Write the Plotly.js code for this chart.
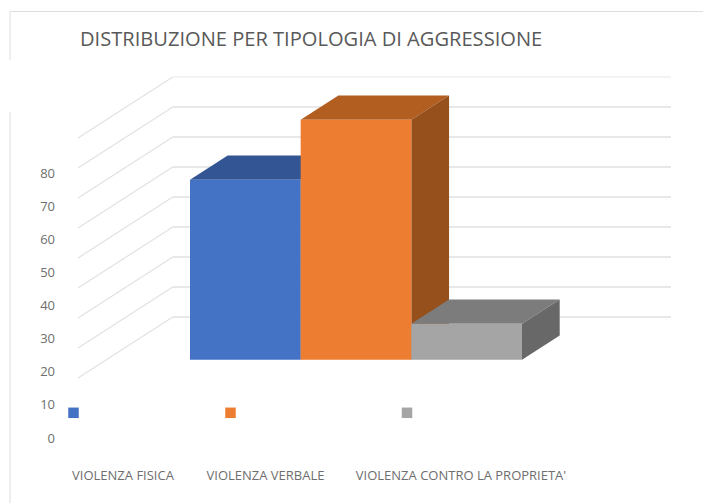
<!DOCTYPE html>
<html>
<head>
<meta charset="utf-8">
<script src="https://cdn.plot.ly/plotly-3.0.1.min.js"></script>
<style>html,body{margin:0;padding:0;background:#fff}#chart{width:703px;height:503px}</style>
</head>
<body>
<div id="chart"></div>
<script>
// ---- data ----
const titleText = "DISTRIBUZIONE PER TIPOLOGIA DI AGGRESSIONE";
const categories = ["VIOLENZA FISICA", "VIOLENZA VERBALE", "VIOLENZA CONTRO LA PROPRIETA'"];
const values = [60, 80, 12];
const gridValues = [0, 10, 20, 30, 40, 50, 60, 70, 80];
const axisTicks = [0, 10, 20, 30, 40, 50, 60, 70, 80];
const frontColors = ["#4472c4", "#ed7d31", "#a5a5a5"];
const topColors = ["#335593", "#b25e21", "#7c7c7c"];
const sideColors = ["#2f5087", "#95501c", "#686868"];

// ---- page geometry ----
const W = 703, H = 503;
const baseline = 359.7, pxPerUnit = 3;
const barLeft = 190, barWidth = 110.67;
const barDepthX = 37.7, barDepthY = 24.3;
const wallX = 172.8, wallRight = 671, wallFrontX = 78, wallDepthX = 94.8;
const wallBackRise = 42.7, wallFrontDrop = 61;
const labelCentres = [123, 265.5, 461];
const legendCentres = [73.5, 230.5, 407];
const legendY = -17.7;

const px = i => barLeft + barWidth * i;
const dy = p => p / pxPerUnit;
const traces = [];

function poly(xs, ys, color) {
  traces.push({
    type: "scatter", mode: "lines", x: xs.concat(xs[0]), y: ys.concat(ys[0]),
    fill: "toself", fillcolor: color, line: {color: color, width: 0},
    hoverinfo: "skip", showlegend: false
  });
}

// gridlines on the back wall and the side wall
gridValues.forEach(v => {
  const back = v + dy(wallBackRise);
  const front = back - dy(wallFrontDrop);
  traces.push({
    type: "scatter", mode: "lines", x: [wallFrontX, wallX], y: [front, back],
    line: {color: "#e2e2e2", width: 1.2}, hoverinfo: "skip", showlegend: false
  });
  traces.push({
    type: "scatter", mode: "lines", x: [wallX, wallRight], y: [back, back],
    line: {color: v === 80 ? "#efefef" : "#e0e0e0", width: 1.4}, hoverinfo: "skip", showlegend: false
  });
});

// bars, each drawn as top, side and front faces from its value
values.forEach((v, i) => {
  const l = px(i), r = px(i + 1), ox = barDepthX, oy = dy(barDepthY);
  poly([l, r, r + ox, l + ox], [v, v, v + oy, v + oy], topColors[i]);
  poly([r, r + ox, r + ox, r], [0, oy, v + oy, v], sideColors[i]);
  poly([l, r, r, l], [0, 0, v, v], frontColors[i]);
});

// legend swatches (their text is absent in the source)
categories.forEach((c, i) => {
  traces.push({
    type: "scatter", mode: "markers", x: [legendCentres[i]], y: [legendY],
    marker: {symbol: "square", size: 10.5, color: frontColors[i]},
    name: c, hoverinfo: "skip", showlegend: false
  });
});

// carrier trace so the tick axes are drawn
traces.push({
  type: "scatter", mode: "none", x: labelCentres, y: axisTicks.slice(0, 3),
  xaxis: "x2", yaxis: "y2", hoverinfo: "skip", showlegend: false
});

const tickFont = {family: "Open Sans, sans-serif", size: 13, color: "#6e6e6e"};
const frame = (x0, y0, x1, y1) => ({
  type: "line", xref: "paper", yref: "paper", layer: "below",
  x0: x0 / W, x1: x1 / W, y0: 1 - y0 / H, y1: 1 - y1 / H,
  line: {color: "#dedede", width: 1}
});

const layout = {
  width: W, height: H, margin: {l: 0, r: 0, t: 0, b: 0},
  paper_bgcolor: "#fff", plot_bgcolor: "rgba(0,0,0,0)", showlegend: false,
  title: {
    text: titleText, x: 80 / W, xref: "paper", xanchor: "left",
    y: 1 - 39 / H, yref: "paper", yanchor: "middle",
    font: {family: "Open Sans, sans-serif", size: 20.1, color: "#595959"}
  },
  xaxis: {range: [0, W], visible: false, fixedrange: true},
  yaxis: {range: [(baseline - H) / pxPerUnit, baseline / pxPerUnit], visible: false, fixedrange: true},
  xaxis2: {
    overlaying: "x", anchor: "free", position: 37 / H, side: "bottom", range: [0, W],
    tickmode: "array", tickvals: labelCentres, ticktext: categories,
    showgrid: false, zeroline: false, showline: false, ticks: "", tickangle: 0,
    tickfont: {family: "Open Sans, sans-serif", size: 13, color: "#6e6e6e"}, fixedrange: true
  },
  yaxis2: {
    overlaying: "y", anchor: "free", position: 55 / W, side: "left",
    range: [(438 - H) / 3.3125, 438 / 3.3125],
    tickmode: "array", tickvals: axisTicks, ticktext: axisTicks.map(String),
    showgrid: false, zeroline: false, showline: false, ticks: "",
    tickfont: tickFont, fixedrange: true
  },
  shapes: [frame(10, 11.5, W, 11.5), frame(10, 11.5, 10, 60), frame(10, 112, 10, H)]
};

Plotly.newPlot("chart", traces, layout, {displayModeBar: false, staticPlot: true});
</script>
</body>
</html>
